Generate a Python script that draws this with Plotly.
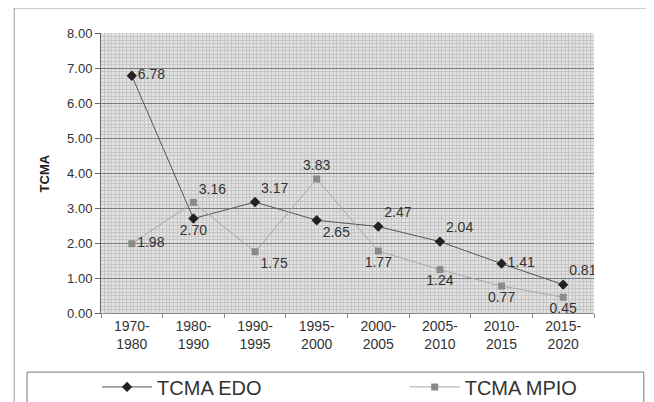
import plotly.graph_objects as go

periods = ["1970-<br>1980", "1980-<br>1990", "1990-<br>1995", "1995-<br>2000",
           "2000-<br>2005", "2005-<br>2010", "2010-<br>2015", "2015-<br>2020"]
tcma_edo = [6.78, 2.70, 3.17, 2.65, 2.47, 2.04, 1.41, 0.81]
tcma_mpio = [1.98, 3.16, 1.75, 3.83, 1.77, 1.24, 0.77, 0.45]
y_ticks = [0, 1, 2, 3, 4, 5, 6, 7, 8]

xpos = list(range(len(periods)))
boundaries = [i - 0.5 for i in range(len(periods) + 1)]
FONT = "Liberation Sans, Arial, sans-serif"

edo_pos = ["middle right", "bottom center", "top right", "bottom right",
           "top right", "top right", "middle right", "top right"]
mpio_pos = ["middle right", "top right", "bottom right", "top center",
            "bottom center", "bottom center", "bottom center", "bottom center"]

fig = go.Figure()
fig.add_trace(go.Scatter(
    x=xpos, y=tcma_edo, name="TCMA EDO", mode="lines+markers+text",
    line=dict(color="#555555", width=1),
    marker=dict(symbol="diamond", size=8, color="#222222"),
    text=[f"{v:.2f}" for v in tcma_edo], textposition=edo_pos,
    textfont=dict(family=FONT, size=14, color="#333333"),
    legend="legend",
))
fig.add_trace(go.Scatter(
    x=xpos, y=tcma_mpio, name="TCMA MPIO", mode="lines+markers+text",
    line=dict(color="#a8a8a8", width=1),
    marker=dict(symbol="square", size=7, color="#8a8a8a"),
    text=[f"{v:.2f}" for v in tcma_mpio], textposition=mpio_pos,
    textfont=dict(family=FONT, size=14, color="#333333"),
    legend="legend2",
))
# empty helper trace so the boundary-tick axis is drawn
fig.add_trace(go.Scatter(x=[None], y=[None], xaxis="x2", yaxis="y",
                         showlegend=False, hoverinfo="skip"))

leg_common = dict(orientation="h", yanchor="middle", y=-0.264, xanchor="left",
                  itemwidth=50,
                  font=dict(family=FONT, size=20, color="#333333"),
                  bgcolor="rgba(0,0,0,0)", borderwidth=0)

# page body has an 8px margin, so the figure is 8px smaller than the window
fig.update_layout(
    width=646, height=394,
    margin=dict(l=93, r=60, t=25, b=89, autoexpand=False),
    paper_bgcolor="white", plot_bgcolor="#e2e2e2",
    font=dict(family=FONT, size=13, color="#333333"),
    showlegend=True,
    legend=dict(x=-0.008, **leg_common),
    legend2=dict(x=0.616, **leg_common),
    xaxis=dict(
        range=[-0.5, 7.5], tickvals=xpos, ticktext=periods,
        showgrid=False, zeroline=False, automargin=False,
        showline=True, linecolor="#888888", linewidth=1,
        tickfont=dict(family=FONT, size=14, color="#333333"),
        minor=dict(dtick=1/17, tick0=-0.5, showgrid=True, gridcolor="#c6c6c6", gridwidth=1),
    ),
    xaxis2=dict(overlaying="x", side="bottom", anchor="y", range=[-0.5, 7.5],
                tickvals=boundaries, showticklabels=False, ticks="outside",
                ticklen=4, tickcolor="#888888", showgrid=False, zeroline=False,
                automargin=False),
    yaxis=dict(
        range=[0, 8], tickvals=y_ticks, ticktext=[f"{v:.2f}" for v in y_ticks],
        showgrid=True, gridcolor="#7c7c7c", gridwidth=1, zeroline=False, automargin=False,
        showline=True, linecolor="#666666", linewidth=1,
        ticks="outside", ticklen=5, tickcolor="#666666",
        tickfont=dict(family=FONT, size=13, color="#333333"),
        minor=dict(dtick=0.1, showgrid=True, gridcolor="#c6c6c6", gridwidth=1),
    ),
)

fig.add_annotation(text="<b>TCMA</b>", textangle=-90, x=-0.134, y=0.5,
                   xref="paper", yref="paper", showarrow=False,
                   font=dict(family=FONT, size=13, color="#222222"))

# legend box
fig.add_shape(type="rect", xref="paper", yref="paper",
              x0=-0.150, x1=1.101, y0=-0.33, y1=-0.211,
              line=dict(color="#777777", width=1), fillcolor="rgba(0,0,0,0)")
# outer frame lines
fig.add_shape(type="line", xref="paper", yref="paper",
              x0=-0.176, x1=1.12, y0=1.089, y1=1.089,
              line=dict(color="#aaaaaa", width=1))
fig.add_shape(type="line", xref="paper", yref="paper",
              x0=-0.176, x1=-0.176, y0=1.089, y1=-0.33,
              line=dict(color="#999999", width=1))

fig.write_html("out.html")
